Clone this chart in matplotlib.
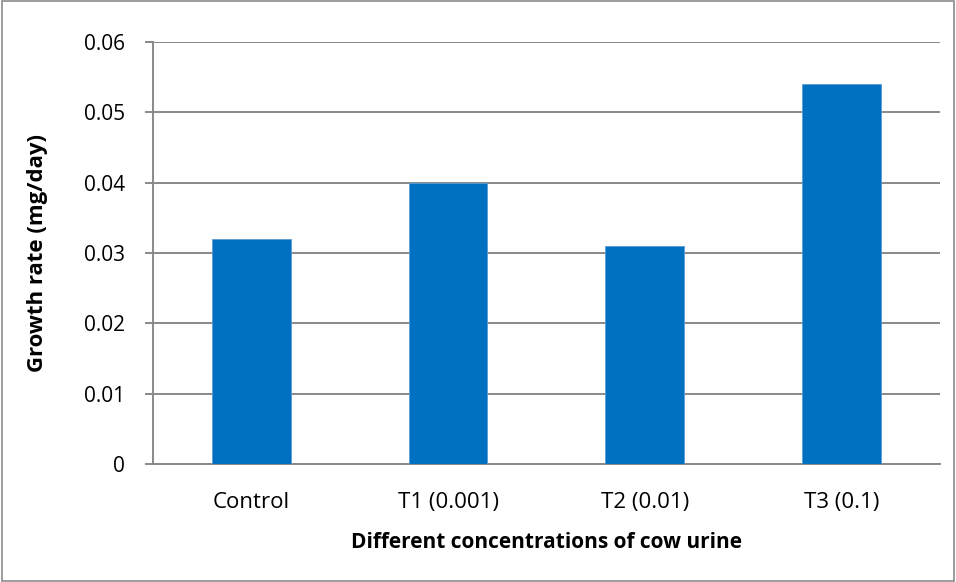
import matplotlib
matplotlib.use("Agg")
import matplotlib.pyplot as plt
from matplotlib.patches import Rectangle

categories = ["Control", "T1 (0.001)", "T2 (0.01)", "T3 (0.1)"]
values = [0.032, 0.040, 0.031, 0.054]
yticks = [0, 0.01, 0.02, 0.03, 0.04, 0.05, 0.06]
ytick_labels = ["0", "0.01", "0.02", "0.03", "0.04", "0.05", "0.06"]

plt.rcParams['font.family'] = ['Open Sans', 'DejaVu Sans']

fig = plt.figure(figsize=(9.56, 5.82), dpi=100)
ax = fig.add_axes([0.160, 0.2027, 0.823, 0.7253])

grid_c = "#898989"
x = range(len(categories))
ax.bar(x, values, width=0.4, color="#0070C0", edgecolor="#5B9BD5", linewidth=0.6, zorder=3)

ax.set_xlim(-0.5, len(categories) - 0.5)
ax.set_ylim(0, 0.06)
ax.set_yticks(yticks)
ax.set_yticklabels(ytick_labels)
ax.set_xticks(list(x))
ax.set_xticklabels(categories)
ax.yaxis.grid(True, color=grid_c, linewidth=1.4, zorder=0)
ax.set_axisbelow(True)

for s in ["top", "right"]:
    ax.spines[s].set_visible(False)
ax.spines["left"].set_color(grid_c)
ax.spines["left"].set_linewidth(1.4)
ax.spines["bottom"].set_color(grid_c)
ax.spines["bottom"].set_linewidth(1.4)

ax.tick_params(axis="y", length=6, width=1.4, color=grid_c, labelsize=15, pad=14)
ax.tick_params(axis="x", length=0, labelsize=16, pad=20)

ax.set_ylabel("Growth rate (mg/day)", fontsize=16, fontweight="bold", labelpad=26)
ax.set_xlabel("Different concentrations of cow urine", fontsize=15, fontweight="bold", labelpad=14)

fig.patches.append(Rectangle((0.002, 0.002), 0.996, 0.996, transform=fig.transFigure,
                             fill=False, edgecolor="#8c8c8c", linewidth=1.2))

fig.savefig("out.png", dpi=100)
